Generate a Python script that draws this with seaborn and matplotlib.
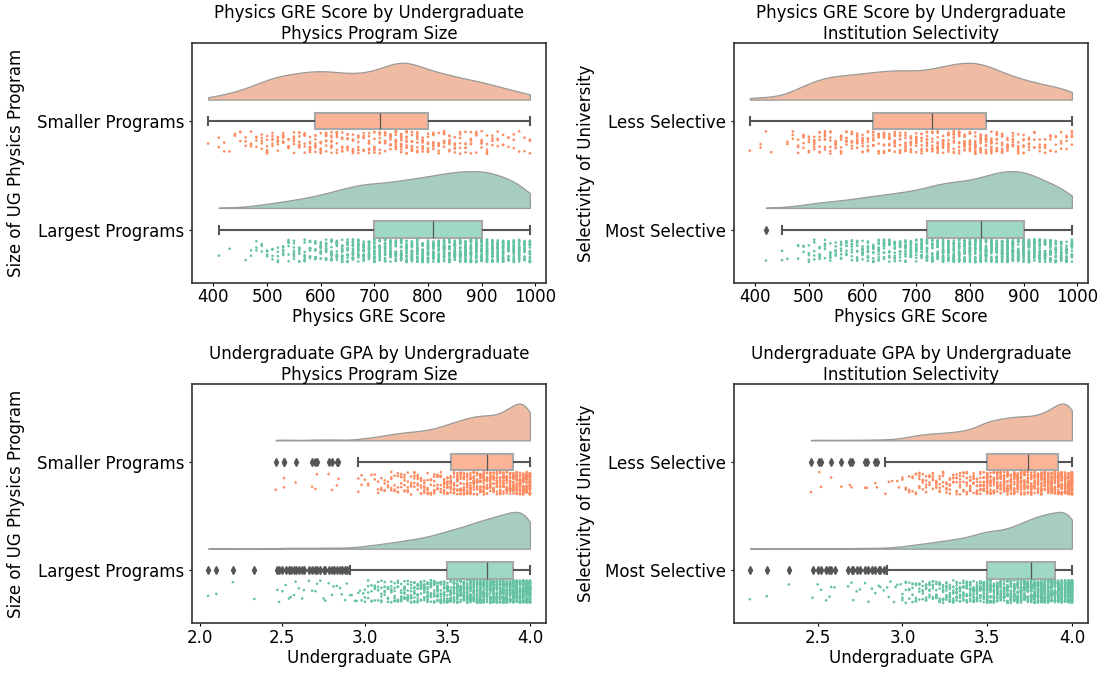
# Raincloud plots: Physics GRE / UG GPA by program size and selectivity
import numpy as np
import pandas as pd
import matplotlib
matplotlib.use("Agg")
import matplotlib.pyplot as plt
from matplotlib.ticker import MultipleLocator
import seaborn as sns

np.random.seed(3)  # only for the strip jitter

# -----------------------------
# data (counts read off the strips / clouds)
# -----------------------------
gre_scores = list(range(390, 1000, 10))  # possible scores 390..990

gre_smaller = [1, 0, 2, 2, 1, 2, 3, 3, 4, 4, 5,
               7, 6, 7, 8, 7, 7, 8, 8, 9, 8,
               9, 8, 9, 8, 7, 8, 7, 8, 7, 8,
               8, 9, 9, 10, 12, 13, 12, 11, 10, 9,
               8, 8, 8, 8, 8, 6, 6, 6, 6, 5,
               6, 5, 4, 4, 3, 3, 3, 2, 2, 3]
gre_largest = [0, 0, 1, 0, 1, 0, 0, 1, 2, 3, 3,
               4, 4, 5, 6, 7, 8, 8, 9, 10, 10,
               13, 14, 15, 16, 17, 19, 20, 22, 23, 24,
               22, 22, 23, 24, 25, 26, 26, 27, 28, 28,
               29, 30, 31, 32, 33, 34, 34, 34, 34, 34,
               36, 35, 33, 31, 29, 27, 25, 23, 22, 22]
gre_less = [1, 0, 2, 1, 1, 0, 0, 2, 3, 4, 5,
            5, 7, 7, 8, 8, 8, 8, 8, 8, 9,
            9, 9, 9, 9, 10, 10, 10, 10, 10, 10,
            9, 9, 10, 10, 11, 11, 12, 12, 12, 13,
            13, 13, 13, 12, 11, 10, 9, 8, 8, 7,
            7, 6, 6, 5, 5, 5, 4, 4, 4, 5]
gre_most = [0, 0, 0, 1, 0, 0, 2, 1, 0, 3, 3,
            5, 5, 6, 6, 7, 7, 8, 8, 9, 10,
            11, 12, 12, 13, 14, 14, 15, 16, 17, 18,
            17, 19, 21, 23, 25, 26, 27, 27, 27, 27,
            28, 29, 31, 33, 35, 37, 38, 39, 39, 38,
            40, 37, 33, 30, 27, 25, 23, 22, 21, 19]

gpa_grid = [round(3.0 + 0.02 * k, 2) for k in range(51)]  # 3.00..4.00

gpa_smaller = [1, 2, 1, 2, 3, 3, 4, 3, 5, 4,
               5, 5, 6, 5, 6, 6, 6, 7, 6, 7,
               7, 8, 8, 9, 10, 12, 11, 12, 13, 14,
               14, 15, 16, 16, 17, 17, 17, 17, 17, 16,
               16, 17, 18, 20, 22, 24, 25, 30, 29, 27,
               50]
gpa_largest = [3, 4, 4, 5, 5, 6, 6, 7, 7, 7,
               9, 9, 10, 10, 11, 11, 12, 13, 13, 14,
               15, 16, 17, 18, 19, 24, 21, 22, 24, 25,
               26, 27, 29, 30, 32, 33, 34, 35, 36, 37,
               38, 39, 40, 42, 43, 44, 45, 45, 44, 42,
               95]
gpa_less = [2, 2, 3, 3, 4, 6, 5, 5, 5, 6,
            5, 6, 6, 6, 7, 6, 7, 7, 7, 8,
            9, 9, 10, 11, 12, 24, 13, 15, 16, 17,
            18, 18, 19, 19, 19, 19, 19, 19, 19, 19,
            19, 20, 21, 23, 25, 27, 29, 31, 31, 30,
            78]
gpa_most = [3, 4, 4, 5, 5, 6, 6, 7, 7, 7,
            9, 9, 10, 10, 11, 11, 12, 13, 13, 14,
            15, 16, 17, 18, 19, 32, 19, 20, 21, 22,
            23, 24, 26, 27, 29, 31, 32, 34, 38, 39,
            40, 41, 42, 43, 44, 43, 44, 44, 42, 40,
            124]

# sparse low GPA tail (below 3.00), read individually
gpa_low_smaller = [2.46, 2.51, 2.51, 2.58, 2.68, 2.70, 2.71, 2.78, 2.80, 2.83,
                   2.84, 2.96, 2.96, 2.98, 2.98]
gpa_low_largest = [2.05, 2.10, 2.20, 2.33, 2.47, 2.48, 2.50, 2.52, 2.54, 2.55,
                   2.57, 2.58, 2.60, 2.62, 2.63, 2.66, 2.68, 2.70, 2.71, 2.73,
                   2.75, 2.76, 2.78, 2.80, 2.81, 2.83, 2.85, 2.86, 2.88, 2.89,
                   2.91, 2.92, 2.94, 2.95, 2.96, 2.97, 2.98, 2.99]
gpa_low_less = [2.46, 2.51, 2.52, 2.58, 2.64, 2.69, 2.70, 2.78, 2.79, 2.84,
                2.85, 2.90, 2.92, 2.94, 2.97, 2.98]
gpa_low_most = [2.10, 2.20, 2.33, 2.47, 2.50, 2.52, 2.55, 2.57, 2.58, 2.60,
                2.68, 2.70, 2.71, 2.73, 2.75, 2.78, 2.80, 2.82, 2.84, 2.86,
                2.87, 2.89, 2.91, 2.92, 2.93, 2.95, 2.96, 2.97, 2.99]

size_groups = ["Smaller Programs", "Largest Programs"]
sel_groups = ["Less Selective", "Most Selective"]

# colours
cloud_colors = ["#efbba2", "#a6cdbf"]
box_colors = ["#fcb497", "#9dd9c3"]
strip_colors = ["#fc8d62", "#66c2a5"]


def build(groups, grid, counts, extras):
    rows = []
    for g, c, e in zip(groups, counts, extras):
        vals = list(e) + list(np.repeat(grid, c))
        rows += [(g, v) for v in vals]
    return pd.DataFrame(rows, columns=["group", "value"])


def raincloud(ax, df, order, xlabel, ylabel, title, label_x, gre=False):
    pal = lambda cols: dict(zip(order, cols))

    # cloud: half violin, flipped so it sits above the box
    n0 = len(ax.collections)
    sns.violinplot(data=df, x="value", y="group", order=order, hue="group",
                   palette=pal(cloud_colors), saturation=1, split=True,
                   inner=None, cut=0, bw_method=0.2, density_norm="width",
                   width=0.34, linewidth=0.9, linecolor="#9a9a9a",
                   legend=False, ax=ax)
    for coll in ax.collections[n0:]:
        new = []
        for p in coll.get_paths():
            v = p.vertices.copy()
            ys, cnt = np.unique(np.round(v[:, 1], 6), return_counts=True)
            base = ys[np.argmax(cnt)]
            i = round(base)
            v[:, 1] = i - 0.2 - np.abs(v[:, 1] - base)
            new.append(v)
        coll.set_verts(new)

    # box
    sns.boxplot(data=df, x="value", y="group", order=order, hue="group",
                palette=pal(box_colors), saturation=1, width=0.15,
                linewidth=1.5, linecolor="#555555",
                boxprops=dict(edgecolor="#a8a8a8"),
                medianprops=dict(color="#555555", linewidth=0.9),
                flierprops=dict(marker="d", markersize=4,
                                markerfacecolor="#555555",
                                markeredgecolor="#555555"),
                legend=False, ax=ax)

    # rain: strip under the box
    n0 = len(ax.collections)
    sns.stripplot(data=df, x="value", y="group", order=order, hue="group",
                  palette=pal(strip_colors), size=1.9, jitter=0.105,
                  linewidth=0, legend=False, ax=ax)
    for coll in ax.collections[n0:]:
        off = coll.get_offsets()
        off[:, 1] += 0.195
        coll.set_offsets(off)

    ax.set_ylim(1.49, -0.72)
    if gre:
        ax.xaxis.set_major_locator(MultipleLocator(100))
    ax.set_xlabel(xlabel, fontsize=12, labelpad=1)
    ax.set_ylabel(ylabel, fontsize=12)
    ax.yaxis.set_label_coords(label_x, 0.5)
    ax.set_title(title, fontsize=12, pad=2.5)
    ax.tick_params(labelsize=12, length=2.5)
    ax.tick_params(axis="x", pad=1.6)
    ax.tick_params(axis="y", pad=3.2)
    for s in ax.spines.values():
        s.set_color("#333333")
        s.set_linewidth(1.2)


df_gre_size = build(size_groups, gre_scores, [gre_smaller, gre_largest], [[], []])
df_gre_sel = build(sel_groups, gre_scores, [gre_less, gre_most], [[], []])
df_gpa_size = build(size_groups, gpa_grid, [gpa_smaller, gpa_largest],
                    [gpa_low_smaller, gpa_low_largest])
df_gpa_sel = build(sel_groups, gpa_grid, [gpa_less, gpa_most],
                   [gpa_low_less, gpa_low_most])

fig = plt.figure(figsize=(11.03, 6.75), dpi=100)
ax1 = fig.add_axes([0.1741, 0.5812, 0.3209, 0.3547])
ax2 = fig.add_axes([0.6652, 0.5812, 0.3212, 0.3547])
ax3 = fig.add_axes([0.1741, 0.0763, 0.3209, 0.3548])
ax4 = fig.add_axes([0.6652, 0.0763, 0.3212, 0.3548])

raincloud(ax1, df_gre_size, size_groups, "Physics GRE Score",
          "Size of UG Physics Program",
          "Physics GRE Score by Undergraduate\nPhysics Program Size",
          -0.472, gre=True)
raincloud(ax2, df_gre_sel, sel_groups, "Physics GRE Score",
          "Selectivity of University",
          "Physics GRE Score by Undergraduate\nInstitution Selectivity",
          -0.392, gre=True)
raincloud(ax3, df_gpa_size, size_groups, "Undergraduate GPA",
          "Size of UG Physics Program",
          "Undergraduate GPA by Undergraduate\nPhysics Program Size",
          -0.472)
raincloud(ax4, df_gpa_sel, sel_groups, "Undergraduate GPA",
          "Selectivity of University",
          "Undergraduate GPA by Undergraduate\nInstitution Selectivity",
          -0.392)

fig.savefig("out.png", dpi=100)
